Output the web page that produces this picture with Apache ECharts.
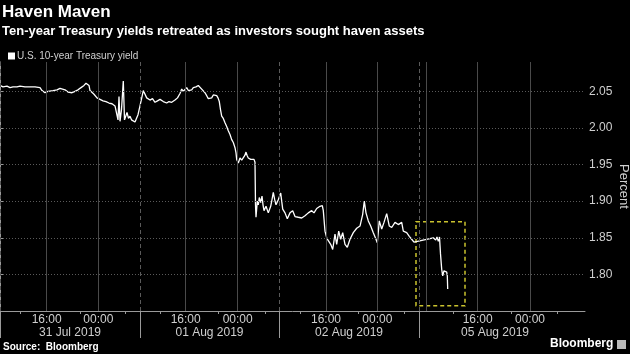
<!DOCTYPE html>
<html>
<head>
<meta charset="utf-8">
<script src="https://cdn.jsdelivr.net/npm/echarts@6/dist/echarts.min.js"></script>
<style>
html,body{margin:0;padding:0;background:#000;}
#chart{width:630px;height:354px;}
</style>
</head>
<body>
<div id="chart"></div>
<script>
// ---- Data (session time index t, yield in %) ----
const tIdx = [
  0,3,7,10,13,17,20,25,30,35,40,42,45,48,50,53,57,60,62,65,68,72,75,78,81,84,86,87,89,90,92,94,97,100,103,106,109,112,115,117,118,119,120,121.5,123.3,124.5,126,127,128.5,130,131.5,133,135,136.7,138,140,
  143.3,146.7,150,152.5,155,157.5,160,163.3,166.7,169,171.7,175,177.5,180,181.7,183.3,185,186.7,188.3,190,191.7,193.3,196,198.3,200,201.7,203.3,205,206.7,208.3,210,211.7,213.3,215,216.7,218,219.3,220.5,221.7,223.3,225,226.7,228.3,230,231.7,233.3,235,236,236.7,238.3,240,241.7,243.3,244.7,246,247.2,248.3,249.5,250.7,252.7,254,255,
  255.5,256,257.3,258.3,259.3,260.7,262,263,264,266,268.3,270.7,272,273.3,274.7,276,278.3,280.7,281.7,282.7,285,287.3,290,292.7,295,298.3,301.7,305,308.3,311.7,314,316.7,320,322.3,323.3,325,326.7,328.3,330.7,332.7,335,336.7,338.7,340.7,342.7,345,347.3,350,353.3,356.7,360,
  362.7,364.3,366,368.3,370.7,373.3,376,377.3,379.3,381.7,384,386.7,389.3,391.7,395,398.3,401.7,403.3,406.7,409.3,411.7,414,
  433.3,435.7,437,438.3,439.5,440.5,441.7,442.7,444,445.3,446.7,447.3,447.7
];
const yieldPct = [
  2.058,2.056,2.057,2.055,2.056,2.056,2.057,2.056,2.056,2.056,2.055,2.051,2.048,2.050,2.052,2.051,2.052,2.054,2.055,2.052,2.049,2.048,2.050,2.052,2.055,2.058,2.061,2.061,2.058,2.051,2.050,2.046,2.041,2.039,2.037,2.036,2.034,2.033,2.030,2.028,2.011,2.043,2.009,2.025,2.064,2.011,2.017,2.021,2.013,2.016,2.011,2.009,2.008,2.006,2.018,2.030,
  2.051,2.041,2.038,2.040,2.035,2.037,2.039,2.036,2.034,2.036,2.035,2.038,2.041,2.047,2.053,2.050,2.051,2.055,2.051,2.049,2.052,2.055,2.056,2.058,2.056,2.053,2.051,2.048,2.044,2.040,2.041,2.041,2.045,2.043,2.044,2.041,2.036,2.025,2.016,2.013,2.007,2.002,1.996,1.991,1.984,1.980,1.973,1.966,1.957,1.952,1.959,1.956,1.957,1.962,1.967,1.962,1.959,1.961,1.957,1.955,1.957,1.953,
  1.895,1.878,1.900,1.895,1.905,1.898,1.907,1.895,1.887,1.893,1.884,1.893,1.902,1.912,1.902,1.895,1.902,1.911,1.900,1.889,1.884,1.876,1.884,1.887,1.879,1.878,1.877,1.880,1.884,1.887,1.884,1.890,1.893,1.894,1.887,1.859,1.850,1.846,1.841,1.834,1.855,1.841,1.859,1.848,1.857,1.841,1.837,1.848,1.857,1.863,1.866,
  1.882,1.900,1.884,1.873,1.866,1.857,1.848,1.843,1.873,1.862,1.871,1.883,1.866,1.864,1.871,1.868,1.871,1.859,1.857,1.852,1.848,1.844,
  1.850,1.847,1.851,1.845,1.851,1.828,1.807,1.798,1.805,1.803,1.803,1.798,1.780
];

// ---- Axis ticks / labels ----
const timeTickT = [46.7, 98.3, 185.7, 237.7, 326, 377.3, 477.7, 530];
const timeTickLabels = ['16:00','00:00','16:00','00:00','16:00','00:00','16:00','00:00'];
const solidGridT = [46.7, 98.3, 185.7, 237.7, 326, 377.3, 426, 477.7, 530];
const dayBoundT = [0, 140, 279.3, 419];
const dayCenterT = [70, 209.5, 349, 495];
const dayLabels = ['31 Jul 2019','01 Aug 2019','02 Aug 2019','05 Aug 2019'];
const minorTickT = [20.7, 80, 125, 160, 218, 265, 300, 358, 404, 453, 511, 557];
const yTicks = [1.80, 1.85, 1.90, 1.95, 2.00, 2.05];
const highlightBox = {t0: 416, t1: 465, y0: 1.757, y1: 1.872};

const seriesName = 'U.S. 10-year Treasury yield';
const FONT = 'Liberation Sans';

const chart = echarts.init(document.getElementById('chart'), null, {renderer: 'canvas'});
const lineData = tIdx.map((t, i) => [t, yieldPct[i]]);

const option = {
  backgroundColor: '#000',
  animation: false,
  textStyle: {fontFamily: FONT},
  graphic: [
    {type: 'text', left: 2, top: 4, style: {text: 'Haven Maven', fill: '#fff', font: 'bold 17px ' + FONT}},
    {type: 'text', left: 2, top: 25, style: {text: 'Ten-year Treasury yields retreated as investors sought haven assets', fill: '#fff', font: 'bold 13px ' + FONT}},
    {type: 'text', left: 3, top: 342, style: {text: 'Source:  Bloomberg', fill: '#fff', font: 'bold 10px ' + FONT}},
    {type: 'text', left: 550, top: 338, style: {text: 'Bloomberg', fill: '#fff', font: 'bold 12px ' + FONT}},
    {type: 'rect', left: 617, top: 340, shape: {width: 9, height: 9}, style: {fill: '#bbb'}}
  ],
  legend: {
    data: [seriesName],
    left: 3, top: 46,
    icon: 'rect', itemWidth: 7, itemHeight: 7, itemGap: 4,
    textStyle: {color: '#d0d0d0', fontSize: 10, fontFamily: FONT, padding: [0,0,0,-3]}
  },
  grid: {left: 0, right: 45, top: 62, bottom: 43, containLabel: false, outerBoundsMode: 'none'},
  xAxis: [
    {
      type: 'value', min: 0, max: 585, position: 'bottom',
      axisLine: {show: true, lineStyle: {color: '#9a9a9a', width: 1}},
      axisTick: {show: true, customValues: minorTickT, length: 3, lineStyle: {color: '#9a9a9a'}},
      axisLabel: {
        customValues: timeTickT, color: '#cfcfcf', fontSize: 12, margin: 3, fontFamily: FONT,
        formatter: v => timeTickLabels[timeTickT.indexOf(v)] || ''
      },
      splitLine: {show: false}
    },
    {
      type: 'value', min: 0, max: 585, position: 'bottom',
      axisLine: {show: false},
      axisTick: {show: true, customValues: dayBoundT, length: 27, lineStyle: {color: '#9a9a9a'}},
      axisLabel: {
        customValues: dayCenterT, color: '#cfcfcf', fontSize: 12, margin: 16, fontFamily: FONT,
        formatter: v => dayLabels[dayCenterT.indexOf(v)] || ''
      },
      splitLine: {show: false}
    }
  ],
  yAxis: {
    type: 'value', position: 'right', min: 1.75, max: 2.09,
    name: 'Percent', nameLocation: 'middle', nameRotate: -90, nameGap: 32, nameMoveOverlap: false,
    nameTextStyle: {color: '#cfcfcf', fontSize: 13, fontFamily: FONT},
    axisLine: {show: true, lineStyle: {color: '#9a9a9a'}},
    axisTick: {show: true, customValues: yTicks, length: 3, inside: false, lineStyle: {color: '#9a9a9a'}},
    axisLabel: {customValues: yTicks, color: '#cfcfcf', fontSize: 12, margin: 4, fontFamily: FONT,
      formatter: v => v.toFixed(2)},
    splitLine: {show: false}
  },
  series: [
    {
      name: 'grid', type: 'line', data: [], z: 1, silent: true,
      markLine: {
        silent: true, symbol: ['none','none'], label: {show: false}, animation: false,
        data: solidGridT.map(t => ({xAxis: t, lineStyle: {color: '#4a4a4a', width: 1, type: 'solid'}}))
          .concat(dayBoundT.map(t => ({xAxis: t, lineStyle: {color: '#5a5a5a', width: 1, type: [4, 3]}})))
          .concat(yTicks.map(v => ({yAxis: v, lineStyle: {color: '#5a5a5a', width: 1, type: [1, 2]}})))
      },
      markArea: {
        silent: true,
        itemStyle: {color: 'rgba(0,0,0,0)', borderColor: '#c9c22e', borderWidth: 1.5, borderType: [4, 3]},
        data: [[{xAxis: highlightBox.t0, yAxis: highlightBox.y1}, {xAxis: highlightBox.t1, yAxis: highlightBox.y0}]]
      }
    },
    {
      name: seriesName, type: 'line', data: lineData, z: 3,
      showSymbol: false, symbol: 'none',
      itemStyle: {color: '#ffffff'},
      lineStyle: {color: '#ffffff', width: 1.3},
      silent: true
    }
  ]
};
chart.setOption(option);
</script>
</body>
</html>
